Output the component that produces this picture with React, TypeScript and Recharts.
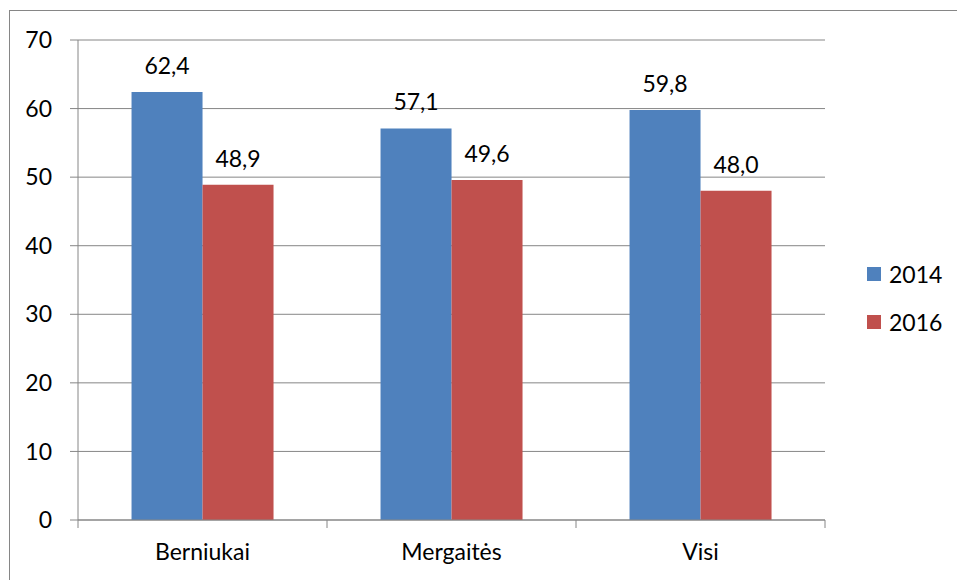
import React from 'react';
import { BarChart, Bar, XAxis, YAxis, CartesianGrid, LabelList } from 'recharts';

const categories = ['Berniukai', 'Mergaitės', 'Visi'];
const values2014 = [62.4, 57.1, 59.8];
const values2016 = [48.9, 49.6, 48.0];
const yTicks = [0, 10, 20, 30, 40, 50, 60, 70];
const seriesNames = ['2014', '2016'];

const BLUE = '#4F81BD';
const RED = '#C0504D';
const GRID = '#868686';
const FONT = 'Lato, "Open Sans", sans-serif';
const FS = 23;

const data = categories.map((name, i) => ({
  name,
  y2014: values2014[i],
  y2016: values2016[i],
}));

const fmt = (v: any) => Number(v).toFixed(1).replace('.', ',');

// category ticks: label in the middle, tick marks on the band edges
const CategoryTick = (props: any) => {
  const { x, y, payload, index, width } = props;
  const band = width / categories.length;
  const axisY = y - 25;
  return (
    <g>
      <line x1={x - band / 2} x2={x - band / 2} y1={axisY} y2={axisY + 8} stroke={GRID} />
      {index === categories.length - 1 && (
        <line x1={x + band / 2} x2={x + band / 2} y1={axisY} y2={axisY + 8} stroke={GRID} />
      )}
      <text x={x} y={y - 1} dy="0.71em" textAnchor="middle" fill="#000" fontSize={FS} fontFamily={FONT}>
        {payload.value}
      </text>
    </g>
  );
};

const LegendBox = () => {
  const colors = [BLUE, RED];
  return (
    <div style={{ position: 'absolute', left: 867, top: 250, fontFamily: FONT, fontSize: FS, color: '#000' }}>
      {seriesNames.map((label, i) => (
        <div key={label} style={{ display: 'flex', alignItems: 'center', height: 48 }}>
          <span style={{ display: 'inline-block', width: 14, height: 14, background: colors[i], marginRight: 8 }} />
          <span>{label}</span>
        </div>
      ))}
    </div>
  );
};

const App: React.FC = () => {
  return (
    <div style={{ position: 'absolute', left: 0, top: 0, width: 957, height: 580, overflow: 'hidden', background: '#fff' }}>
      <div
        style={{
          position: 'absolute',
          left: 9,
          top: 10,
          width: 1200,
          height: 1200,
          border: `1px solid ${GRID}`,
        }}
      />
      <BarChart
        width={957}
        height={580}
        data={data}
        margin={{ top: 40, right: 132, bottom: 0, left: 0 }}
        barCategoryGap="21.5%"
        barGap={0}
      >
        <CartesianGrid vertical={false} stroke={GRID} strokeWidth={1} />
        <XAxis
          dataKey="name"
          height={60}
          tick={<CategoryTick />}
          tickLine={false}
          tickSize={8}
          tickMargin={17}
          axisLine={{ stroke: GRID }}
          interval={0}
        />
        <YAxis
          width={78}
          domain={[0, 70]}
          ticks={yTicks}
          tickSize={8}
          tickMargin={18}
          tickLine={{ stroke: GRID }}
          axisLine={{ stroke: GRID }}
          tick={{ fill: '#000', fontSize: FS, fontFamily: FONT }}
        />
        <Bar dataKey="y2014" name={seriesNames[0]} fill={BLUE} isAnimationActive={false}>
          <LabelList dataKey="y2014" position="top" offset={18} formatter={fmt} fill="#000" fontSize={FS} fontFamily={FONT} />
        </Bar>
        <Bar dataKey="y2016" name={seriesNames[1]} fill={RED} isAnimationActive={false}>
          <LabelList dataKey="y2016" position="top" offset={18} formatter={fmt} fill="#000" fontSize={FS} fontFamily={FONT} />
        </Bar>
      </BarChart>
      <LegendBox />
    </div>
  );
};

export default App;
